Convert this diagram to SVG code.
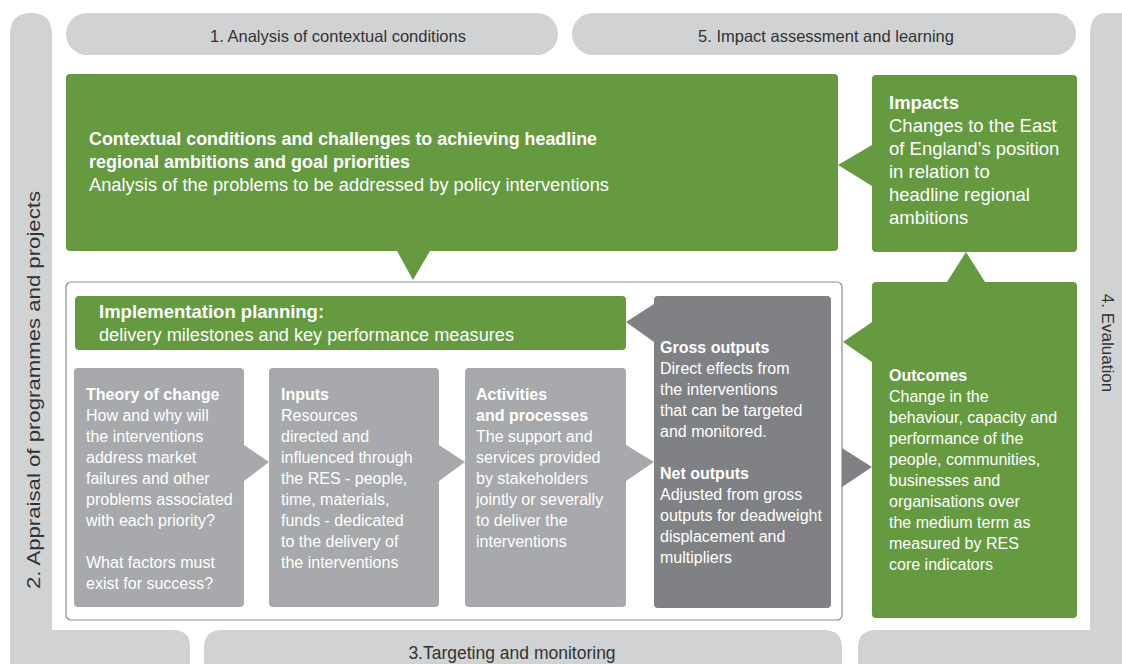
<svg xmlns="http://www.w3.org/2000/svg" width="1122" height="664" viewBox="0 0 1122 664">
<style>
.bar{fill:#d1d2d4}
.grn{fill:#659a41}
.gry{fill:#a7a9ac}
.dk{fill:#808184}
.bt{font-family:"Liberation Sans",Arial,sans-serif;font-size:16.5px;fill:#333333}
.wt{font-family:"Liberation Sans",Arial,sans-serif;font-size:16px;fill:#ffffff}
.b{font-weight:bold}
</style>
<rect width="1122" height="664" fill="#ffffff"/>
<g id="frame">
  <path class="bar" d="M10,35 Q10,13 31,13 Q52,13 52,35 L52,630 L173,630 Q190,630 190,647 L190,664 L10,664 Z"/>
  <path class="bar" d="M204,664 L204,648 Q204,630 222,630 L824,630 Q842,630 842,648 L842,664 Z"/>
  <path class="bar" d="M858,664 L858,648 Q858,630 876,630 L1090,630 L1090,35 Q1090,13 1106,13 L1122,13 L1122,664 Z"/>
  <rect class="bar" x="66" y="13" width="492" height="42" rx="21"/>
  <rect class="bar" x="572" y="13" width="504" height="42" rx="21"/>
</g>
<g id="labels">
  <text class="bt" x="338" y="42" text-anchor="middle">1. Analysis of contextual conditions</text>
  <text class="bt" x="826" y="42" text-anchor="middle">5. Impact assessment and learning</text>
  <text class="bt" x="512" y="659" text-anchor="middle" style="font-size:17.5px">3.Targeting and monitoring</text>
  <text class="bt" transform="translate(40,390) rotate(-90)" text-anchor="middle" style="font-size:18px" textLength="398" lengthAdjust="spacingAndGlyphs">2. Appraisal of programmes and projects</text>
  <text class="bt" transform="translate(1102,343) rotate(90)" text-anchor="middle" style="font-size:17px">4. Evaluation</text>
</g>
<g id="container">
  <rect x="66" y="282" width="776" height="338" rx="5" fill="#ffffff" stroke="#8a8b8d" stroke-width="1.2"/>
</g>
<g id="connectors">
  <polygon class="grn" points="397,251 430,251 413,280"/>
  <polygon class="grn" points="872,145 872,186 838,165"/>
  <polygon class="grn" points="947,282 985,282 966,252"/>
  <polygon class="grn" points="872,322 872,362 843,342"/>
  <polygon class="dk" points="654,304 654,342 626,322"/>
  <polygon class="dk" points="842,448 842,487 872,467"/>
  <polygon class="gry" points="244,445 244,481 269,462"/>
  <polygon class="gry" points="439,445 439,481 465,462"/>
  <polygon class="gry" points="626,445 626,481 654,462"/>
</g>
<g id="context">
  <rect class="grn" x="66" y="74" width="772" height="177" rx="4"/>
  <text class="wt b" x="89" y="145" style="font-size:18px" textLength="508" lengthAdjust="spacingAndGlyphs">Contextual conditions and challenges to achieving headline</text>
  <text class="wt b" x="89" y="168" style="font-size:18px">regional ambitions and goal priorities</text>
  <text class="wt" x="89" y="191" style="font-size:18px" textLength="520" lengthAdjust="spacingAndGlyphs">Analysis of the problems to be addressed by policy interventions</text>
</g>
<g id="impacts">
  <rect class="grn" x="872" y="75" width="205" height="177" rx="4"/>
  <text class="wt" x="889" y="109" style="font-size:18.5px"><tspan class="b">Impacts</tspan><tspan x="889" dy="23">Changes to the East</tspan><tspan x="889" dy="23">of England’s position</tspan><tspan x="889" dy="23">in relation to</tspan><tspan x="889" dy="23">headline regional</tspan><tspan x="889" dy="23">ambitions</tspan></text>
</g>
<g id="outcomes">
  <rect class="grn" x="872" y="282" width="205" height="336" rx="4"/>
  <text class="wt" x="889" y="381"><tspan class="b">Outcomes</tspan><tspan x="889" dy="21">Change in the</tspan><tspan x="889" dy="21">behaviour, capacity and</tspan><tspan x="889" dy="21">performance of the</tspan><tspan x="889" dy="21">people, communities,</tspan><tspan x="889" dy="21">businesses and</tspan><tspan x="889" dy="21">organisations over</tspan><tspan x="889" dy="21">the medium term as</tspan><tspan x="889" dy="21">measured by RES</tspan><tspan x="889" dy="21">core indicators</tspan></text>
</g>
<g id="implementation">
  <rect class="grn" x="75" y="296" width="551" height="54" rx="4"/>
  <text class="wt b" x="99" y="318" style="font-size:18.5px">Implementation planning:</text>
  <text class="wt" x="99" y="341" style="font-size:18px" textLength="415" lengthAdjust="spacingAndGlyphs">delivery milestones and key performance measures</text>
</g>
<g id="gross">
  <rect class="dk" x="654" y="296" width="177" height="312" rx="4"/>
  <text class="wt" x="660" y="353"><tspan class="b">Gross outputs</tspan><tspan x="660" dy="21">Direct effects from</tspan><tspan x="660" dy="21">the interventions</tspan><tspan x="660" dy="21">that can be targeted</tspan><tspan x="660" dy="21">and monitored.</tspan><tspan x="660" dy="42" class="b">Net outputs</tspan><tspan x="660" dy="21">Adjusted from gross</tspan><tspan x="660" dy="21">outputs for deadweight</tspan><tspan x="660" dy="21">displacement and</tspan><tspan x="660" dy="21">multipliers</tspan></text>
</g>
<g id="theory">
  <rect class="gry" x="74" y="368" width="170" height="239" rx="4"/>
  <text class="wt" x="86" y="400"><tspan class="b">Theory of change</tspan><tspan x="86" dy="21">How and why will</tspan><tspan x="86" dy="21">the interventions</tspan><tspan x="86" dy="21">address market</tspan><tspan x="86" dy="21">failures and other</tspan><tspan x="86" dy="21">problems associated</tspan><tspan x="86" dy="21">with each priority?</tspan><tspan x="86" dy="42">What factors must</tspan><tspan x="86" dy="21">exist for success?</tspan></text>
</g>
<g id="inputs">
  <rect class="gry" x="269" y="368" width="170" height="239" rx="4"/>
  <text class="wt" x="281" y="400"><tspan class="b">Inputs</tspan><tspan x="281" dy="21">Resources</tspan><tspan x="281" dy="21">directed and</tspan><tspan x="281" dy="21">influenced through</tspan><tspan x="281" dy="21">the RES - people,</tspan><tspan x="281" dy="21">time, materials,</tspan><tspan x="281" dy="21">funds - dedicated</tspan><tspan x="281" dy="21">to the delivery of</tspan><tspan x="281" dy="21">the interventions</tspan></text>
</g>
<g id="activities">
  <rect class="gry" x="465" y="368" width="161" height="239" rx="4"/>
  <text class="wt" x="476" y="400"><tspan class="b">Activities</tspan><tspan x="476" dy="21" class="b">and processes</tspan><tspan x="476" dy="21">The support and</tspan><tspan x="476" dy="21">services provided</tspan><tspan x="476" dy="21">by stakeholders</tspan><tspan x="476" dy="21">jointly or severally</tspan><tspan x="476" dy="21">to deliver the</tspan><tspan x="476" dy="21">interventions</tspan></text>
</g>
</svg>
